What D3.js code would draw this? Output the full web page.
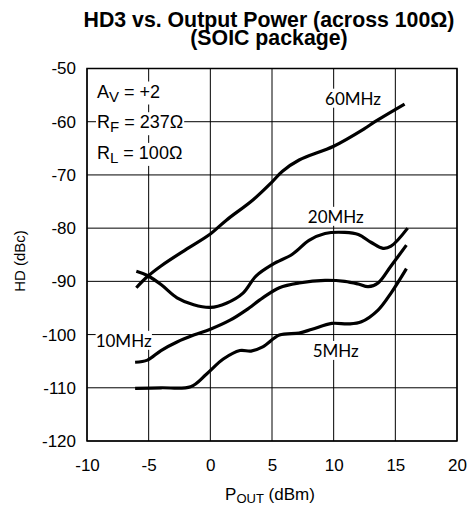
<!DOCTYPE html>
<html>
<head>
<meta charset="utf-8">
<script src="https://cdn.jsdelivr.net/npm/d3@7/dist/d3.min.js"></script>
<style>
  html, body { margin: 0; padding: 0; background: #fff; }
  svg { display: block; }
</style>
</head>
<body>
<script>
// ---- Data ----
const xTicks = [-10, -5, 0, 5, 10, 15, 20];
const yTicks = [-50, -60, -70, -80, -90, -100, -110, -120];

const curve5MHz = [
  [-6.1, -110.1], [-4, -110.0], [-1.6, -109.8], [-0.3, -107.4], [1.05, -104.6],
  [2.4, -103.0], [3.3, -103.1], [4.25, -102.3], [5.6, -100.1], [7.2, -99.7],
  [8.25, -99.0], [9.85, -97.9], [11.2, -98.0], [12.25, -97.6], [13.6, -95.4],
  [14.65, -92.2], [15.9, -87.6]
];
const curve10MHz = [
  [-6.1, -105.2], [-5.1, -104.8], [-4.0, -103.0], [-2.7, -101.4], [-1.35, -100.1],
  [0, -99.0], [1.6, -97.3], [2.9, -95.4], [4.25, -93.1], [5.6, -91.2], [7.2, -90.3],
  [9.3, -89.8], [10.9, -90.0], [12.0, -90.5], [12.8, -91.0], [13.6, -90.3],
  [14.65, -87.1], [15.9, -83.2]
];
const curve20MHz = [
  [-6.0, -88.1], [-5.1, -88.9], [-4.0, -90.6], [-2.7, -93.1], [-1.35, -94.4],
  [0, -94.9], [1.3, -94.1], [2.65, -92.2], [3.7, -89.0], [5.05, -86.8], [6.65, -84.9],
  [8.0, -82.3], [9.3, -81.0], [10.9, -80.8], [12.0, -81.2], [13.05, -82.7],
  [14.0, -83.8], [14.65, -83.4], [16.0, -80.0]
];
const curve60MHz = [
  [-6.0, -91.2], [-5.1, -89.1], [-4.0, -87.1], [-1.9, -83.9], [0, -81.1],
  [1.3, -78.5], [3.45, -74.7], [5.05, -71.2], [5.85, -69.3], [7.2, -67.2],
  [10.0, -64.6], [12.5, -61.3], [13.35, -60.0], [15.75, -56.7]
];
const seriesNames = ["5MHz", "10MHz", "20MHz", "60MHz"];
const seriesData = [curve5MHz, curve10MHz, curve20MHz, curve60MHz];
// label anchor positions (text start, baseline) in data units
const labelPos = [[8.3, -104.2], [-9.3, -102.3], [7.9, -79.0], [9.3, -56.8]];

// ---- Layout ----
const W = 469, H = 506;
const m = { left: 87, right: 12, top: 68.5, bottom: 65 };
const pw = W - m.left - m.right, ph = H - m.top - m.bottom;

const svg = d3.select("body").append("svg").attr("width", W).attr("height", H);

const x = d3.scaleLinear().domain([-10, 20]).range([m.left, m.left + pw]);
const y = d3.scaleLinear().domain([-120, -50]).range([m.top + ph, m.top]);

const font = "Liberation Sans, Arial, sans-serif";
const labelFont = "Lato, 'Open Sans', sans-serif";

// Title
const title = svg.append("text").attr("text-anchor", "middle")
  .style("font-family", font).style("font-weight", "bold").style("font-size", "21.3px");
title.append("tspan").attr("x", 269).attr("y", 27).text("HD3 vs. Output Power (across 100Ω)");
title.append("tspan").attr("x", 269).attr("y", 45).text("(SOIC package)");

// Grid
const g = svg.append("g");
g.selectAll("line.vx").data(xTicks).join("line")
  .attr("x1", d => x(d)).attr("x2", d => x(d))
  .attr("y1", m.top).attr("y2", m.top + ph)
  .attr("stroke", "#000").attr("stroke-width", 1);
g.selectAll("line.hy").data(yTicks).join("line")
  .attr("y1", d => y(d)).attr("y2", d => y(d))
  .attr("x1", m.left).attr("x2", m.left + pw)
  .attr("stroke", "#000").attr("stroke-width", 1);
svg.append("rect").attr("x", m.left).attr("y", m.top).attr("width", pw).attr("height", ph)
  .attr("fill", "none").attr("stroke", "#000").attr("stroke-width", 1.5);

// Axes (labels only)
const fmt = d => String(d);
const xAxis = d3.axisBottom(x).tickValues(xTicks).tickFormat(fmt).tickSize(0).tickPadding(18);
const yAxis = d3.axisLeft(y).tickValues(yTicks).tickFormat(fmt).tickSize(0).tickPadding(11);
const gx = svg.append("g").attr("transform", `translate(0,${m.top + ph})`).call(xAxis);
const gy = svg.append("g").attr("transform", `translate(${m.left},0)`).call(yAxis);
[gx, gy].forEach(a => {
  a.select(".domain").remove();
  a.selectAll("text").style("font-family", font).style("font-size", "17px").attr("fill", "#000");
});

// Axis titles
const xt = svg.append("text").attr("x", 270).attr("y", 500).attr("text-anchor", "middle")
  .style("font-family", font).style("font-size", "17px");
xt.append("tspan").text("P");
xt.append("tspan").attr("dy", 3).style("font-size", "13px").text("OUT");
xt.append("tspan").attr("dy", -3).text(" (dBm)");

svg.append("text").attr("transform", "translate(25,261) rotate(-90)")
  .attr("text-anchor", "middle").style("font-family", font).style("font-size", "15px")
  .text("HD (dBc)");

// Curves
const line = d3.line().x(d => x(d[0])).y(d => y(d[1])).curve(d3.curveCatmullRom.alpha(0.5));
svg.selectAll("path.curve").data(seriesData).join("path")
  .attr("d", line).attr("fill", "none").attr("stroke", "#000")
  .attr("stroke-width", 3.2).attr("stroke-linecap", "butt");

// Curve labels with white background
seriesNames.forEach((name, i) => {
  const t = svg.append("text").attr("x", x(labelPos[i][0])).attr("y", y(labelPos[i][1]))
    .style("font-family", labelFont).style("font-size", "17px").text(name);
  const b = t.node().getBBox();
  svg.insert("rect", () => t.node()).attr("x", b.x).attr("y", b.y + 1)
    .attr("width", b.width).attr("height", b.height - 2).attr("fill", "#fff");
});

// Annotation block
const ann = [["A", "V", " = +2"], ["R", "F", " = 237Ω"], ["R", "L", " = 100Ω"]];
ann.forEach((a, i) => {
  const t = svg.append("text").attr("x", 97).attr("y", 97.5 + i * 30.7)
    .style("font-family", font).style("font-size", "18px");
  t.append("tspan").text(a[0]);
  t.append("tspan").attr("dy", 4).style("font-size", "15px").text(a[1]);
  t.append("tspan").attr("dy", -4).text(a[2]);
  const b = t.node().getBBox();
  svg.insert("rect", () => t.node()).attr("x", b.x - 1).attr("y", b.y)
    .attr("width", b.width + 2).attr("height", b.height).attr("fill", "#fff");
});
</script>
</body>
</html>
